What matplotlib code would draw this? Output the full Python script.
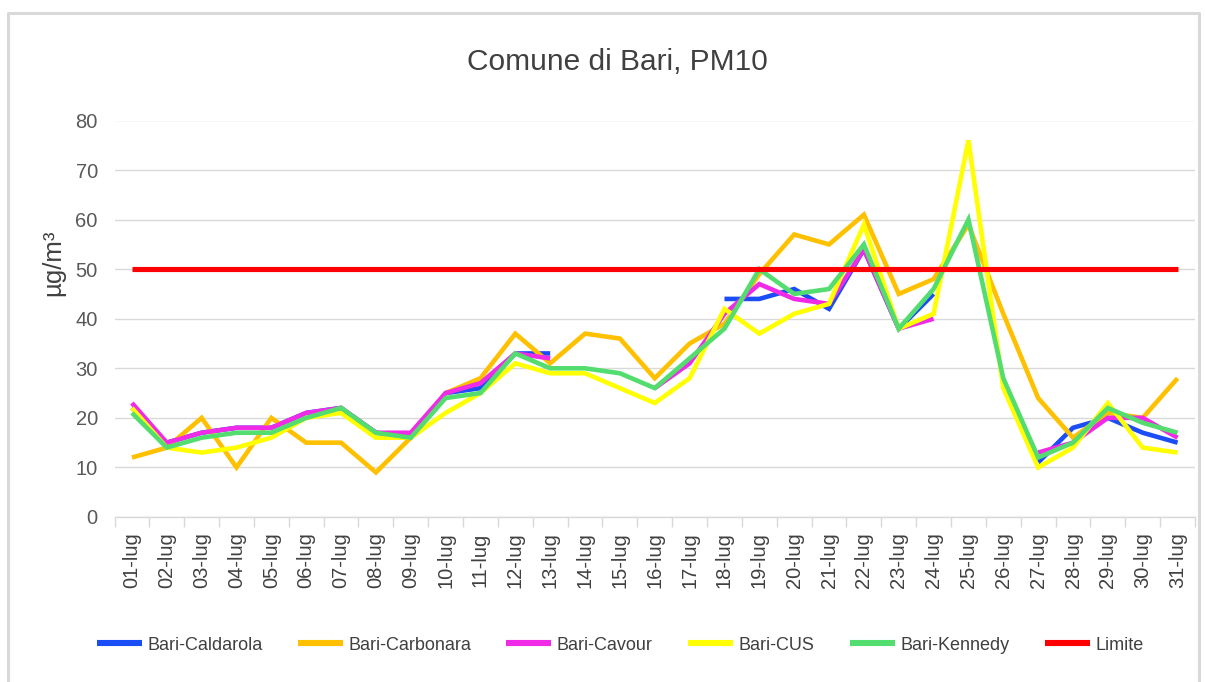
import numpy as np
import matplotlib
matplotlib.use("Agg")
import matplotlib.pyplot as plt
from matplotlib.lines import Line2D
from matplotlib.ticker import FixedLocator

nan = np.nan
days = [f"{d:02d}-lug" for d in range(1, 32)]

caldarola = [22, 15, 17, 18, 18, 21, 22, 17, 16, 25, 26, 33, 33, nan, nan, nan, nan,
             44, 44, 46, 42, 54, 38, 45, nan, nan, 11, 18, 20, 17, 15]
carbonara = [12, 14, 20, 10, 20, 15, 15, 9, 16, 25, 28, 37, 31, 37, 36, 28, 35,
             39, 49, 57, 55, 61, 45, 48, 59, 41, 24, 16, 21, 20, 28]
cavour = [23, 15, 17, 18, 18, 21, 22, 17, 17, 25, 27, 33, 32, nan, nan, 26, 31,
          41, 47, 44, 43, 54, 38, 40, nan, nan, 13, 15, 20, 20, 16]
cus = [22, 14, 13, 14, 16, 20, 21, 16, 16, 21, 25, 31, 29, 29, 26, 23, 28,
       42, 37, 41, 43, 59, 38, 41, 76, 26, 10, 14, 23, 14, 13]
kennedy = [21, 14, 16, 17, 17, 20, 22, 17, 16, 24, 25, 33, 30, 30, 29, 26, 32,
           38, 50, 45, 46, 55, 38, 46, 60, 28, 12, 15, 22, 19, 17]
limite = [50] * 31

series = [
    ("Bari-Caldarola", caldarola, "#1A4DF5"),
    ("Bari-Carbonara", carbonara, "#FFC000"),
    ("Bari-Cavour", cavour, "#F02AE6"),
    ("Bari-CUS", cus, "#FFFF00"),
    ("Bari-Kennedy", kennedy, "#52DD6E"),
    ("Limite", limite, "#FF0000"),
]

plain = ["Liberation Sans", "DejaVu Sans"]

W, H = 1205, 682
fig = plt.figure(figsize=(W / 100, H / 100), dpi=100)
fig.patch.set_facecolor("white")

# outer chart frame
bx0, by0, bx1 = 8, 13, 1199
fig.add_artist(Line2D([bx0 / W, bx0 / W, bx1 / W, bx1 / W],
                      [0, 1 - by0 / H, 1 - by0 / H, 0],
                      transform=fig.transFigure, color="#D9D9D9", lw=2.2))

left, right = 114.5 / W, 1195 / W
bottom, top = 1 - 517 / H, 1 - 120.5 / H
ax = fig.add_axes([left, bottom, right - left, top - bottom])

x = np.arange(len(days))
for name, vals, col in series:
    lw = 3.7 if name == "Limite" else 3.3
    ax.plot(x, vals, color=col, lw=lw, label=name, solid_joinstyle="miter",
            solid_capstyle="butt")

ax.set_xlim(-0.5, len(days) - 0.5)
ax.set_ylim(0, 80)
ax.set_yticks(range(0, 81, 10))
ax.yaxis.grid(True, color="#D9D9D9", lw=1.0)
ax.set_axisbelow(True)
for s in ["top", "right", "left"]:
    ax.spines[s].set_visible(False)
ax.spines["bottom"].set_color("#D9D9D9")
ax.spines["bottom"].set_linewidth(1.0)

ax.set_xticks(x)
ax.set_xticklabels(days, rotation=90, fontfamily=plain, fontsize=14.5, color="#404040")
ax.xaxis.set_minor_locator(FixedLocator(np.arange(-0.5, len(days), 1.0)))
ax.tick_params(axis="x", which="major", length=0, pad=11)
ax.tick_params(axis="x", which="minor", length=7, color="#D9D9D9", width=1.0)
ax.tick_params(axis="y", length=0, pad=12, labelsize=14.5, labelcolor="#595959")
for lab in ax.get_yticklabels():
    lab.set_fontfamily(plain)

fig.text(53 / W, 1 - 263 / H, "µg/m³", rotation=90, ha="center", va="center",
         fontsize=18.5, family=plain, color="#404040")

fig.text(617 / W, 1 - 62 / H, "Comune di Bari, PM10", ha="center", va="center",
         fontsize=21.5, family=plain, color="#404040")

handles, labels = ax.get_legend_handles_labels()
leg = fig.legend(handles, labels, loc="center", bbox_to_anchor=(620 / W, 1 - 645 / H),
                 ncol=6, frameon=False, handlelength=2.5, handletextpad=0.3,
                 columnspacing=1.95, prop={"family": plain, "size": 13})
for t in leg.get_texts():
    t.set_color("#404040")
for h in leg.get_lines():
    h.set_linewidth(4.4)

fig.savefig("out.png", dpi=100, facecolor="white")
